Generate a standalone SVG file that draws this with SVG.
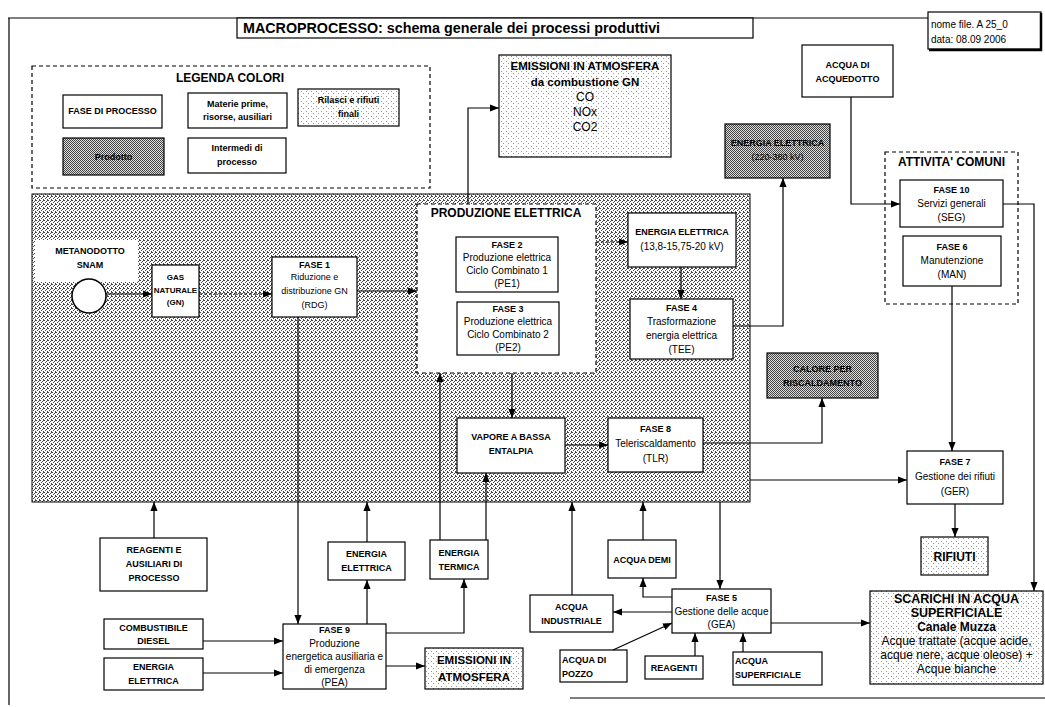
<svg xmlns="http://www.w3.org/2000/svg" width="1045" height="707" viewBox="0 0 1045 707">
<defs>
<style>
text{font-family:"Liberation Sans",Arial,sans-serif;fill:#000}
.m{text-anchor:middle}
.b{font-weight:bold}
.s8{font-size:8px}.s9{font-size:9px}.s10{font-size:10px}.s11{font-size:11.5px}.s12{font-size:12px}.s13{font-size:12.5px}
.bx{fill:#fff;stroke:#000;stroke-width:1.2}
.dk{fill:url(#pDark);stroke:#000;stroke-width:1.2}
.lt{fill:url(#pLight);stroke:#000;stroke-width:1.2}
.dash{fill:#fff;stroke:#000;stroke-width:1.2;stroke-dasharray:4 3}
.ln{fill:none;stroke:#000;stroke-width:1.2}
.c{fill:none;stroke:#000;stroke-width:1.2;marker-end:url(#ah)}
.cd{stroke-dasharray:3 2}
</style>
<marker id="ah" viewBox="0 0 10 8" refX="10" refY="4" markerWidth="9" markerHeight="7.2" markerUnits="userSpaceOnUse" orient="auto"><path d="M0,0 L10,4 L0,8 z" fill="#000"/></marker>
<pattern id="pMid" width="4" height="4" patternUnits="userSpaceOnUse"><rect width="4" height="4" fill="#fff"/><rect x="0" y="0" width="1" height="1" fill="#444"/><rect x="2" y="1" width="1" height="1" fill="#444"/><rect x="1" y="2" width="1" height="1" fill="#444"/><rect x="3" y="3" width="1" height="1" fill="#444"/><rect x="3" y="0" width="1" height="1" fill="#444"/></pattern>
<pattern id="pDark" width="2" height="2" patternUnits="userSpaceOnUse"><rect width="2" height="2" fill="#ddd"/><rect x="0" y="0" width="1" height="1" fill="#444"/><rect x="1" y="1" width="1" height="1" fill="#444"/></pattern>
<pattern id="pLight" width="5" height="5" patternUnits="userSpaceOnUse"><rect width="5" height="5" fill="#fff"/><rect x="1" y="1" width="1" height="1" fill="#999"/><rect x="3" y="3" width="1" height="1" fill="#999"/></pattern>
</defs>
<rect width="1045" height="707" fill="#fff"/>

<g id="frame">
<path class="ln" d="M8,18 H928 M9,18 V705 M570,698 H1045"/>
</g>

<g id="title">
<rect class="bx" x="237" y="18" width="516" height="20"/>
<text class="b" x="243" y="33" style="font-size:14.3px">MACROPROCESSO: schema generale dei processi produttivi</text>
</g>

<g id="filename">
<rect class="bx" x="928" y="12" width="113" height="37"/>
<path class="ln" d="M1041,13 V50 H929" style="stroke-width:2.5"/>
<text class="s10" x="931" y="28">nome file. A 25_0</text>
<text class="s10" x="931" y="43">data: 08.09 2006</text>
</g>

<g id="legend">
<rect class="dash" x="32" y="66" width="398" height="122"/>
<text class="m b s12" x="230" y="82">LEGENDA COLORI</text>
<rect class="bx" x="63" y="95" width="99" height="33"/>
<text class="m b s9" x="112.5" y="114">FASE DI PROCESSO</text>
<rect class="bx" x="188" y="93" width="99" height="35"/>
<text class="m b s9" x="237.5" y="107">Materie prime,</text>
<text class="m b s9" x="237.5" y="120">risorse, ausiliari</text>
<rect class="lt" x="298" y="89" width="101" height="37"/>
<text class="m b s9" x="348.5" y="103">Rilasci e rifiuti</text>
<text class="m b s9" x="348.5" y="117">finali</text>
<rect class="dk" x="63" y="138" width="101" height="37"/>
<text class="m b s9" x="113.5" y="160">Prodotto</text>
<rect class="bx" x="188" y="138" width="98" height="35"/>
<text class="m b s9" x="237" y="151">Intermedi di</text>
<text class="m b s9" x="237" y="165">processo</text>
</g>

<g id="area">
<rect x="32" y="194" width="718" height="308" fill="url(#pMid)" stroke="#000" stroke-width="1"/>
</g>

<g id="emissioni-gn">
<rect class="lt" x="499" y="55" width="172" height="102"/>
<text class="m b s11" x="585" y="70">EMISSIONI IN ATMOSFERA</text>
<text class="m b s11" x="585" y="86">da combustione GN</text>
<text class="m s12" x="585" y="101">CO</text>
<text class="m s12" x="585" y="116">NOx</text>
<text class="m s12" x="585" y="131">CO2</text>
</g>

<g id="acquedotto">
<rect class="bx" x="802" y="45" width="91" height="52"/>
<text class="m b s9" x="847.5" y="68">ACQUA DI</text>
<text class="m b s9" x="847.5" y="82">ACQUEDOTTO</text>
</g>

<g id="ee-220">
<rect class="dk" x="725" y="124" width="105" height="54"/>
<text class="m b s9" x="777.5" y="146">ENERGIA ELETTRICA</text>
<text class="m s9" x="777.5" y="160">(220-380 kV)</text>
</g>

<g id="attivita-comuni">
<rect class="dash" x="885" y="152" width="133" height="152"/>
<text class="m b s12" x="951.5" y="166">ATTIVITA' COMUNI</text>
</g>

<g id="fase10">
<rect class="bx" x="900" y="180" width="103" height="47"/>
<text class="m b s9" x="951.5" y="193">FASE 10</text>
<text class="m s10" x="951.5" y="207">Servizi generali</text>
<text class="m s10" x="951.5" y="221">(SEG)</text>
</g>

<g id="fase6">
<rect class="bx" x="903" y="236" width="98" height="50"/>
<text class="m b s9" x="952" y="250">FASE 6</text>
<text class="m s10" x="952" y="264">Manutenzione</text>
<text class="m s10" x="952" y="278">(MAN)</text>
</g>

<g id="metanodotto">
<rect x="35" y="240" width="103" height="42" fill="#fff"/>
<text class="m b s9" x="90" y="254">METANODOTTO</text>
<text class="m b s9" x="90" y="268">SNAM</text>
<circle cx="89" cy="296" r="17" fill="#fff" stroke="#000" stroke-width="1.5"/>
</g>

<g id="gas-naturale">
<rect class="bx" x="152" y="265" width="47" height="52"/>
<text class="m b s8" x="175.5" y="280">GAS</text>
<text class="m b s8" x="175.5" y="293">NATURALE</text>
<text class="m b s8" x="175.5" y="305">(GN)</text>
</g>

<g id="fase1">
<rect class="bx" x="272" y="257" width="85" height="60"/>
<text class="m b s9" x="314.5" y="268">FASE 1</text>
<text class="m s9" x="314.5" y="280">Riduzione e</text>
<text class="m s9" x="314.5" y="294">distribuzione GN</text>
<text class="m s9" x="314.5" y="308">(RDG)</text>
</g>

<g id="produzione-elettrica">
<rect class="dash" x="417" y="204" width="179" height="169"/>
<text class="m b s12" x="506" y="217">PRODUZIONE ELETTRICA</text>
</g>

<g id="fase2">
<rect class="bx" x="456" y="237" width="102" height="55"/>
<text class="m b s9" x="507" y="248">FASE 2</text>
<text class="m s10" x="507" y="261">Produzione elettrica</text>
<text class="m s10" x="507" y="274">Ciclo Combinato 1</text>
<text class="m s10" x="507" y="287">(PE1)</text>
</g>

<g id="fase3">
<rect class="bx" x="457" y="302" width="102" height="53"/>
<text class="m b s9" x="508" y="312">FASE 3</text>
<text class="m s10" x="508" y="325">Produzione elettrica</text>
<text class="m s10" x="508" y="338">Ciclo Combinato 2</text>
<text class="m s10" x="508" y="351">(PE2)</text>
</g>

<g id="ee-13">
<rect class="bx" x="628" y="213" width="108" height="54"/>
<text class="m b s9" x="682" y="235">ENERGIA ELETTRICA</text>
<text class="m s10" x="682" y="250">(13,8-15,75-20 kV)</text>
</g>

<g id="fase4">
<rect class="bx" x="630" y="299" width="103" height="60"/>
<text class="m b s9" x="681.5" y="311">FASE 4</text>
<text class="m s10" x="681.5" y="325">Trasformazione</text>
<text class="m s10" x="681.5" y="339">energia elettrica</text>
<text class="m s10" x="681.5" y="353">(TEE)</text>
</g>

<g id="calore">
<rect class="dk" x="767" y="353" width="111" height="45"/>
<text class="m b s9" x="822.5" y="372">CALORE PER</text>
<text class="m b s9" x="822.5" y="386">RISCALDAMENTO</text>
</g>

<g id="vapore">
<rect class="bx" x="457" y="418" width="108" height="55"/>
<text class="m b s9" x="511" y="440">VAPORE A BASSA</text>
<text class="m b s9" x="511" y="454">ENTALPIA</text>
</g>

<g id="fase8">
<rect class="bx" x="608" y="418" width="95" height="54"/>
<text class="m b s9" x="655.5" y="432">FASE 8</text>
<text class="m s10" x="655.5" y="447">Teleriscaldamento</text>
<text class="m s10" x="655.5" y="462">(TLR)</text>
</g>

<g id="fase7">
<rect class="bx" x="907" y="451" width="96" height="53"/>
<text class="m b s9" x="955" y="465">FASE 7</text>
<text class="m s10" x="955" y="480">Gestione dei rifiuti</text>
<text class="m s10" x="955" y="495">(GER)</text>
</g>

<g id="rifiuti">
<rect class="lt" x="921" y="537" width="67" height="38"/>
<text class="m b s12" x="954.5" y="561">RIFIUTI</text>
</g>

<g id="reagenti-ausiliari">
<rect class="bx" x="100" y="538" width="107" height="53"/>
<text class="m b s9" x="154" y="553">REAGENTI E</text>
<text class="m b s9" x="154" y="567">AUSILIARI DI</text>
<text class="m b s9" x="154" y="581">PROCESSO</text>
</g>

<g id="ee-mid">
<rect class="bx" x="328" y="542" width="77" height="38"/>
<text class="m b s9" x="366.5" y="557">ENERGIA</text>
<text class="m b s9" x="366.5" y="571">ELETTRICA</text>
</g>

<g id="energia-termica">
<rect class="bx" x="430" y="540" width="58" height="39"/>
<text class="m b s9" x="459" y="556">ENERGIA</text>
<text class="m b s9" x="459" y="570">TERMICA</text>
</g>

<g id="combustibile">
<rect class="bx" x="104" y="619" width="99" height="30"/>
<text class="m b s9" x="153.5" y="631">COMBUSTIBILE</text>
<text class="m b s9" x="153.5" y="644">DIESEL</text>
</g>

<g id="ee-bl">
<rect class="bx" x="104" y="658" width="99" height="32"/>
<text class="m b s9" x="153.5" y="670">ENERGIA</text>
<text class="m b s9" x="153.5" y="684">ELETTRICA</text>
</g>

<g id="fase9">
<rect class="bx" x="283" y="624" width="103" height="65"/>
<text class="m b s9" x="334.5" y="633">FASE 9</text>
<text class="m s10" x="334.5" y="647">Produzione</text>
<text class="m s10" x="334.5" y="660">energetica ausiliaria e</text>
<text class="m s10" x="334.5" y="673">di emergenza</text>
<text class="m s10" x="334.5" y="686">(PEA)</text>
</g>

<g id="emissioni-pea">
<rect class="lt" x="425" y="648" width="98" height="41"/>
<text class="m b s11" x="474" y="664">EMISSIONI IN</text>
<text class="m b s11" x="474" y="681">ATMOSFERA</text>
</g>

<g id="acqua-demi">
<rect class="bx" x="608" y="540" width="68" height="38"/>
<text class="m b s9" x="642" y="563">ACQUA DEMI</text>
</g>

<g id="acqua-industriale">
<rect class="bx" x="530" y="595" width="83" height="37"/>
<text class="m b s9" x="571.5" y="610">ACQUA</text>
<text class="m b s9" x="571.5" y="624">INDUSTRIALE</text>
</g>

<g id="fase5">
<rect class="bx" x="672" y="589" width="99" height="44"/>
<text class="m b s9" x="721.5" y="601">FASE 5</text>
<text class="m s10" x="721.5" y="615">Gestione delle acque</text>
<text class="m s10" x="721.5" y="628">(GEA)</text>
</g>

<g id="acqua-pozzo">
<rect class="bx" x="560" y="650" width="67" height="32"/>
<text class="b s9" x="562" y="663">ACQUA DI</text>
<text class="b s9" x="562" y="677">POZZO</text>
</g>

<g id="reagenti">
<rect class="bx" x="645" y="656" width="58" height="23"/>
<text class="m b s9" x="674" y="671">REAGENTI</text>
</g>

<g id="acqua-superficiale">
<rect class="bx" x="733" y="652" width="89" height="33"/>
<text class="b s9" x="735" y="664">ACQUA</text>
<text class="b s9" x="735" y="678">SUPERFICIALE</text>
</g>

<g id="scarichi">
<rect class="lt" x="870" y="591" width="173" height="93"/>
<text class="m b s13" x="956.5" y="603">SCARICHI IN ACQUA</text>
<text class="m b s13" x="956.5" y="617">SUPERFICIALE</text>
<text class="m b s12" x="956.5" y="631">Canale Muzza</text>
<text class="m s12" x="956.5" y="645">Acque trattate (acque acide,</text>
<text class="m s12" x="956.5" y="659">acque nere, acque oleose) +</text>
<text class="m s12" x="956.5" y="673">Acque bianche</text>
</g>

<g id="connectors">
<path class="c" d="M106,294 H152"/>
<path class="c cd" d="M199,294 H272"/>
<path class="c" d="M357,291 H417"/>
<path class="c" d="M298,317 V624"/>
<path class="c" d="M468,204 V108 H499"/>
<path class="c cd" d="M596,242 H628"/>
<path class="c" d="M681,267 V299"/>
<path class="c" d="M733,326 H783 V178"/>
<path class="c" d="M512,373 V418"/>
<path class="c" d="M565,445 H608"/>
<path class="c" d="M703,443 H822 V398"/>
<path class="c" d="M750,480 H907"/>
<path class="c" d="M720,502 V589"/>
<path class="c" d="M851,97 V204 H900"/>
<path class="c" d="M1003,204 H1034 V591"/>
<path class="c" d="M952,286 V451"/>
<path class="c" d="M955,504 V537"/>
<path class="c" d="M771,623 H870"/>
<path class="c" d="M672,612 H613"/>
<path class="c" d="M672,597 H643 V578"/>
<path class="c" d="M643,540 V502"/>
<path class="c" d="M572,595 V502"/>
<path class="c" d="M613,650 L672,623"/>
<path class="c" d="M695,656 V633"/>
<path class="c" d="M743,652 V633"/>
<path class="c" d="M154,538 V502"/>
<path class="c" d="M367,542 V502"/>
<path class="c" d="M367,624 V580"/>
<path class="c" d="M440,540 V373"/>
<path class="c" d="M486,540 V473"/>
<path class="c" d="M386,633 H464 V579"/>
<path class="c" d="M386,666 H425"/>
<path class="c" d="M203,641 H283"/>
<path class="c" d="M203,673 H283"/>
</g>
</svg>
